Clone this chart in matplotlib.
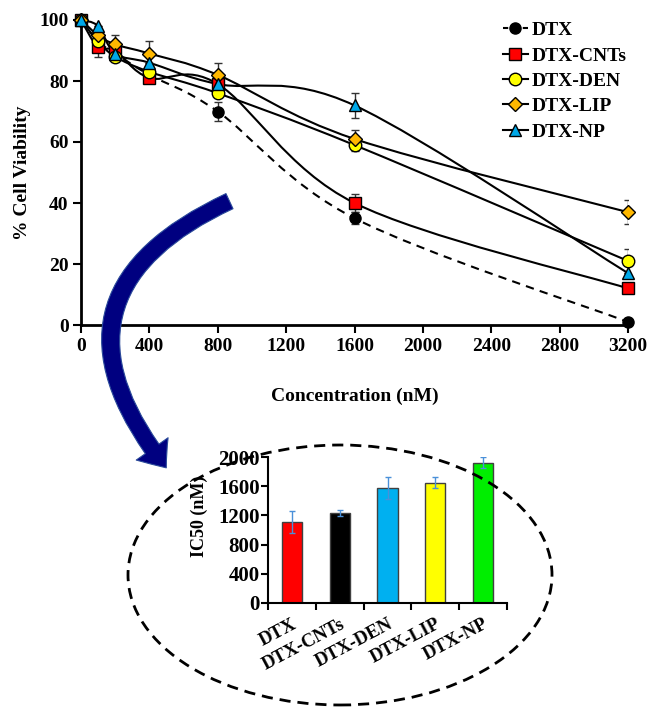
import matplotlib
matplotlib.use("Agg")
import matplotlib.pyplot as plt
import numpy as np
from matplotlib.path import Path
from matplotlib.patches import PathPatch, FancyArrowPatch, Ellipse
from matplotlib.lines import Line2D

plt.rcParams['font.family'] = ['Liberation Serif', 'DejaVu Serif']
plt.rcParams['font.weight'] = 'bold'

# ---- data: viability curves ----
conc = [0, 100, 200, 400, 800, 1600, 3200]
series_names = ["DTX", "DTX-CNTs", "DTX-DEN", "DTX-LIP", "DTX-NP"]
dtx = [100, 93, 89, 82, 70, 35, 1]
dtx_cnts = [100, 91, 90, 81, 79, 40, 12]
dtx_den = [100, 93, 88, 83, 76, 59, 21]
dtx_lip = [100, 95, 92, 89, 82, 61, 37]
dtx_np = [100, 98, 89, 86, 79, 72, 17]
err_dtx = [0, 0, 0, 0, 3, 2, 0]
err_cnts = [0, 3, 0, 0, 0, 3, 0]
err_den = [0, 0, 0, 0, 0, 2, 4]
err_lip = [0, 0, 3, 4, 4, 3, 4]
err_np = [0, 0, 0, 0, 0, 4, 0]
x_ticks = [0, 400, 800, 1200, 1600, 2000, 2400, 2800, 3200]
y_ticks = [0, 20, 40, 60, 80, 100]

# ---- data: IC50 bars ----
bar_labels = ["DTX", "DTX-CNTs", "DTX-DEN", "DTX-LIP", "DTX-NP"]
ic50 = [1110, 1235, 1570, 1650, 1920]
ic50_err = [150, 45, 150, 80, 75]
bar_yticks = [0, 400, 800, 1200, 1600, 2000]

W, H = 648, 710
fig = plt.figure(figsize=(W / 100, H / 100), dpi=100)


def fx(px):
    return px / W


def fy(py):
    return 1 - py / H


def smooth_path(x, y):
    pts = np.column_stack([x, y]).astype(float)
    n = len(pts)
    verts = [pts[0]]
    codes = [Path.MOVETO]
    for i in range(n - 1):
        p0 = pts[i - 1] if i > 0 else pts[i]
        p1 = pts[i]
        p2 = pts[i + 1]
        p3 = pts[i + 2] if i + 2 < n else pts[i + 1]
        c1 = p1 + (p2 - p0) / 6.0
        c2 = p2 - (p3 - p1) / 6.0
        verts += [c1, c2, p2]
        codes += [Path.CURVE4] * 3
    return Path(verts, codes)


# ---- top axes ----
ax = fig.add_axes([fx(81), fy(325), fx(628) - fx(81), fy(20) - fy(325)])
ax.set_xlim(0, 3200)
ax.set_ylim(0, 100)
for s in ['top', 'right']:
    ax.spines[s].set_visible(False)
for s in ['left', 'bottom']:
    ax.spines[s].set_linewidth(2)
ax.spines['left'].set_bounds(0, 100)
ax.set_xticks(x_ticks)
ax.set_yticks(y_ticks)
ax.tick_params(direction='out', length=6, width=1.5, labelsize=14, pad=3)
for lab in ax.get_xticklabels() + ax.get_yticklabels():
    lab.set_fontweight('bold')
ax.set_ylabel("% Cell Viability", fontsize=14, fontweight='bold', labelpad=6)
ax.set_xlabel("Concentration (nM)", fontsize=14, fontweight='bold', labelpad=24)

styles = [
    (dtx, err_dtx, 'o', 'black', '--', 8),
    (dtx_cnts, err_cnts, 's', '#FF0000', '-', 8),
    (dtx_den, err_den, 'o', '#FFFF00', '-', 9),
    (dtx_lip, err_lip, 'D', '#FFB800', '-', 7),
    (dtx_np, err_np, '^', '#00A8E8', '-', 9),
]
handles = []
for name, (yv, ev, mk, col, ls, ms) in zip(series_names, styles):
    path = smooth_path(conc, yv)
    ax.add_patch(PathPatch(path, fill=False, edgecolor='black', lw=1.5,
                           linestyle=(0, (4, 3)) if ls == '--' else '-', zorder=2))
    ax.errorbar(conc, yv, yerr=ev, fmt='none', ecolor='#333333', elinewidth=1,
                capsize=3, capthick=1, zorder=3)
    ax.plot(conc, yv, linestyle='none', marker=mk, markersize=ms,
            markerfacecolor=col, markeredgecolor='black', markeredgewidth=1,
            zorder=4, clip_on=False)
    handles.append(Line2D([], [], color='black', lw=1.5,
                          linestyle=(0.5, (3, 2)) if ls == '--' else '-',
                          marker=mk, markersize=ms, markerfacecolor=col,
                          markeredgecolor='black', label=name))

leg = ax.legend(handles=handles, loc='upper left', bbox_to_anchor=(0.771, 0.995),
                frameon=False, fontsize=14, handlelength=1.3, handletextpad=0.2,
                labelspacing=0.4, borderaxespad=0, borderpad=0)
for t in leg.get_texts():
    t.set_fontweight('bold')

# ---- dashed ellipse ----
ell = Ellipse((fx(340), fy(575)), fx(424), 260 / H, transform=fig.transFigure,
              fill=False, edgecolor='black', lw=2, linestyle=(0, (4, 2.5)), zorder=1)
fig.add_artist(ell)

# ---- curved arrow ----
arrow = FancyArrowPatch((fx(232), fy(200)), (fx(168), fy(470)),
                        transform=fig.transFigure,
                        connectionstyle="arc3,rad=0.64",
                        arrowstyle="simple,head_length=17,head_width=28,tail_width=12",
                        mutation_scale=1, facecolor='#000080', edgecolor='#2A4A9A',
                        lw=0.8, zorder=10)
fig.add_artist(arrow)

# ---- bar axes ----
bx = fig.add_axes([fx(268), fy(603), fx(507) - fx(268), fy(457) - fy(603)])
bx.patch.set_alpha(0)
xs = np.arange(len(bar_labels))
bar_colors = ['#FF0000', '#000000', '#00B0F0', '#FFFF00', '#00EE00']
bx.bar(xs, ic50, width=0.42, color=bar_colors, edgecolor='#404040', linewidth=1)
bx.errorbar(xs, ic50, yerr=ic50_err, fmt='none', ecolor='#4A90D9',
            elinewidth=1, capsize=2, capthick=1)
bx.set_xlim(-0.5, len(bar_labels) - 0.5)
bx.set_ylim(0, 2000)
for s in ['top', 'right']:
    bx.spines[s].set_visible(False)
for s in ['left', 'bottom']:
    bx.spines[s].set_linewidth(1.5)
bx.set_yticks(bar_yticks)
bx.set_xticks(xs)
bx.set_xticklabels(bar_labels, rotation=28, ha='right', rotation_mode='anchor',
                   fontsize=13.5, fontweight='bold')
bx.tick_params(axis='x', length=0, pad=9)
bx.set_xticks(np.arange(-0.5, len(bar_labels)), minor=True)
bx.tick_params(axis='x', which='minor', length=5, width=1.5, direction='out')
bx.tick_params(axis='y', length=5, width=1.5, direction='out', labelsize=15, pad=1)
for lab in bx.get_yticklabels():
    lab.set_fontweight('bold')
bx.set_ylabel("IC50 (nM)", fontsize=13, fontweight='bold')
bx.yaxis.set_label_coords(-(268 - 208) / (507 - 268), (603 - 516) / 146)

fig.savefig("out.png", dpi=100)
